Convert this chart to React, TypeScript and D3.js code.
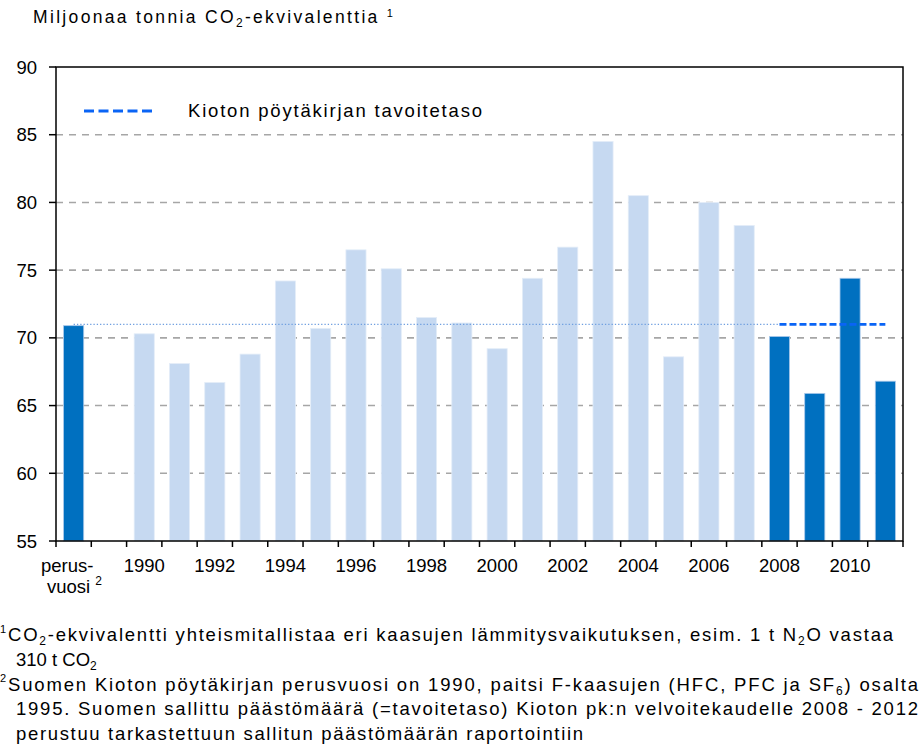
import React from "react";
import * as d3 from "d3";

const categories: string[] = [
  "perusvuosi", "gap",
  "1990", "1991", "1992", "1993", "1994", "1995", "1996", "1997", "1998", "1999",
  "2000", "2001", "2002", "2003", "2004", "2005", "2006", "2007",
  "2008", "2009", "2010", "2011",
];
const values: (number | null)[] = [
  70.9, null,
  70.3, 68.1, 66.7, 68.8, 74.2, 70.7, 76.5, 75.1, 71.5, 71.1,
  69.2, 74.4, 76.7, 84.5, 80.5, 68.6, 80.0, 78.3,
  70.1, 65.9, 74.4, 66.8,
];
const darkCategories: string[] = ["perusvuosi", "2008", "2009", "2010", "2011"];
const yTicks: number[] = [55, 60, 65, 70, 75, 80, 85, 90];
const xTickLabels: string[] = ["1990", "1992", "1994", "1996", "1998", "2000", "2002", "2004", "2006", "2008", "2010"];
const targetValue = 71.0;
const targetStart = "perusvuosi";
const targetPeriodStart = "2008";
const targetPeriodEnd = "2011";

const W = 924;
const H = 750;
const M = { left: 56, right: 903, top: 67, bottom: 541 };
const FONT = "'Liberation Sans', Arial, sans-serif";
const FS = 18.5;

export default function App() {
  const x = d3
    .scaleBand<string>()
    .domain(categories)
    .range([M.left, M.right])
    .paddingInner(0.43)
    .paddingOuter(0.215);
  const y = d3.scaleLinear().domain([55, 90]).range([M.bottom, M.top]);
  const step = x.step();
  const cx = (c: string) => (x(c) as number) + x.bandwidth() / 2;

  const line = d3
    .line<[number, number]>()
    .x((d) => d[0])
    .y((d) => d[1]);

  const dotted = line([
    [cx(targetStart), y(targetValue)],
    [cx(targetPeriodStart), y(targetValue)],
  ]);
  const dashed = line([
    [cx(targetPeriodStart), y(targetValue)],
    [cx(targetPeriodEnd), y(targetValue)],
  ]);

  const boundaries = d3.range(categories.length + 1).map((i) => M.left + i * step);

  return (
    <div style={{ position: "absolute", left: 0, top: 0 }}>
      <svg width={W} height={H} style={{ display: "block", background: "#fff" }} fontFamily={FONT}>
        {/* title */}
        <text x={33} y={23} fontSize={17.5} fill="#000" textLength={360} lengthAdjust="spacing">
          Miljoonaa tonnia CO<tspan fontSize={12} dy={4}>2</tspan>
          <tspan dy={-4}>-ekvivalenttia </tspan>
          <tspan fontSize={11} dy={-6}>1</tspan>
        </text>

        {/* gridlines */}
        {yTicks
          .filter((t) => t > 55 && t < 90)
          .map((t) => (
            <line
              key={"g" + t}
              x1={M.left}
              x2={M.right}
              y1={y(t)}
              y2={y(t)}
              stroke="#a6a6a6"
              strokeWidth={1.6}
              strokeDasharray="7,6"
            />
          ))}

        {/* bars */}
        {categories.map((c, i) => {
          const v = values[i];
          if (v === null) return null;
          const dark = darkCategories.includes(c);
          return (
            <rect
              key={c}
              x={x(c)}
              y={y(v)}
              width={x.bandwidth()}
              height={y(55) - y(v)}
              fill={dark ? "#0070c0" : "#c6d9f1"}
              stroke={dark ? "#a9c8ea" : "#e4edf8"}
              strokeWidth={0.8}
            />
          );
        })}

        {/* target lines */}
        <path d={dotted ?? ""} fill="none" stroke="#6f9fe0" strokeWidth={1.3} strokeDasharray="1.3,2" />
        <path d={dashed ?? ""} fill="none" stroke="#0a64f5" strokeWidth={2.8} strokeDasharray="7,3" />

        {/* frame */}
        <rect x={M.left} y={M.top} width={M.right - M.left} height={M.bottom - M.top} fill="none" stroke="#000" strokeWidth={1.5} />

        {/* y ticks */}
        {yTicks.map((t) => (
          <g key={"y" + t}>
            <line x1={M.left - 7} x2={M.left} y1={y(t)} y2={y(t)} stroke="#000" strokeWidth={1.5} />
            <text x={37} y={y(t) + 6.5} fontSize={FS} textAnchor="end" fill="#000">
              {t}
            </text>
          </g>
        ))}

        {/* x ticks */}
        {boundaries.map((b, i) => (
          <line key={"xt" + i} x1={b} x2={b} y1={M.bottom} y2={M.bottom + 6} stroke="#000" strokeWidth={1.5} />
        ))}
        {xTickLabels.map((l) => (
          <text key={"xl" + l} x={cx(l)} y={572} fontSize={FS} textAnchor="middle" fill="#000">
            {l}
          </text>
        ))}
        <text x={41} y={572} fontSize={FS} fill="#000">perus-</text>
        <text x={47} y={593} fontSize={FS} fill="#000">
          vuosi <tspan fontSize={12} dy={-8}>2</tspan>
        </text>

        {/* legend */}
        <line x1={84} x2={156} y1={111} y2={111} stroke="#0a64f5" strokeWidth={3} strokeDasharray="10,4.5" />
        <text x={188} y={117} fontSize={FS} fill="#000" textLength={294} lengthAdjust="spacing">
          Kioton pöytäkirjan tavoitetaso
        </text>

        {/* footnotes */}
        <text x={0} y={633} fontSize={11} fill="#000">1</text>
        <text x={8} y={641} fontSize={FS} fill="#000" textLength={885} lengthAdjust="spacing">
          CO<tspan fontSize={12} dy={4}>2</tspan>
          <tspan dy={-4}>-ekvivalentti yhteismitallistaa eri kaasujen lämmitysvaikutuksen, esim. 1 t N</tspan>
          <tspan fontSize={12} dy={4}>2</tspan>
          <tspan dy={-4}>O vastaa</tspan>
        </text>
        <text x={16} y={666} fontSize={FS} fill="#000">
          310 t CO<tspan fontSize={12} dy={4}>2</tspan>
        </text>
        <text x={0} y={682} fontSize={11} fill="#000">2</text>
        <text x={8} y={691} fontSize={FS} fill="#000" textLength={910} lengthAdjust="spacing">
          Suomen Kioton pöytäkirjan perusvuosi on 1990, paitsi F-kaasujen (HFC, PFC ja SF
          <tspan fontSize={12} dy={4}>6</tspan>
          <tspan dy={-4}>) osalta</tspan>
        </text>
        <text x={16} y={715} fontSize={FS} fill="#000" textLength={902} lengthAdjust="spacing">
          1995. Suomen sallittu päästömäärä (=tavoitetaso) Kioton pk:n velvoitekaudelle 2008 - 2012
        </text>
        <text x={16} y={740} fontSize={FS} fill="#000" textLength={567} lengthAdjust="spacing">
          perustuu tarkastettuun sallitun päästömäärän raportointiin
        </text>
      </svg>
    </div>
  );
}
